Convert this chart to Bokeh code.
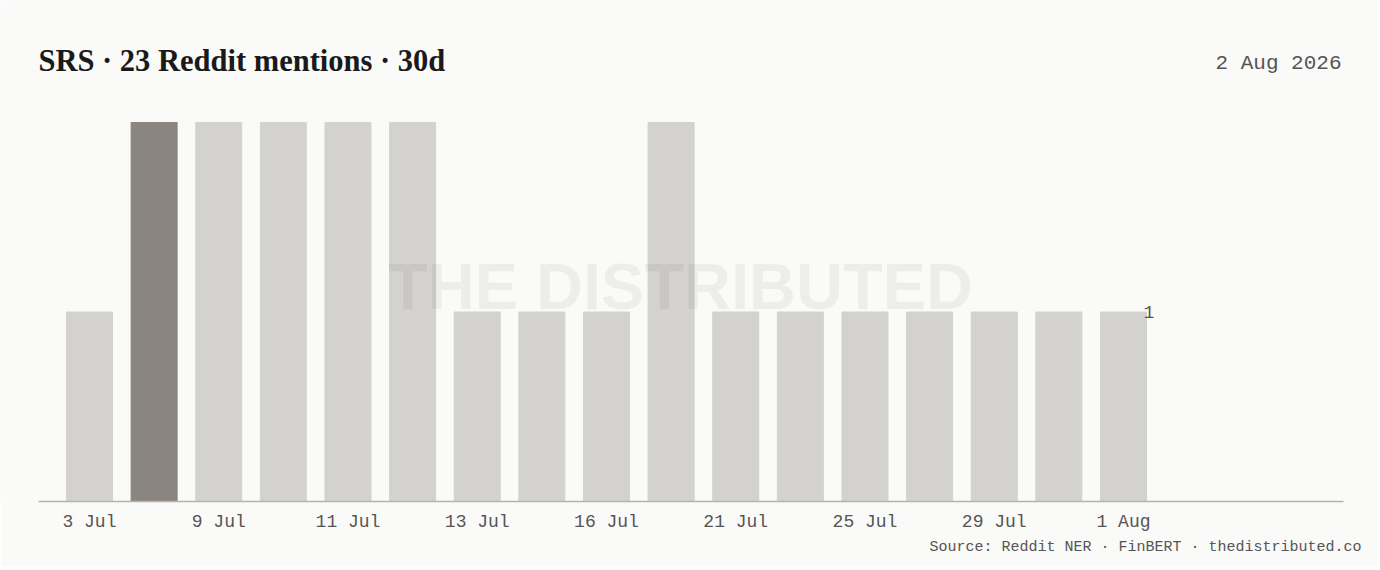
from bokeh.plotting import figure
from bokeh.models import ColumnDataSource, Range1d, FixedTicker, Label, Title
from bokeh.embed import file_html
from bokeh.resources import INLINE

# ---- data ----
mentions = [1, 2, 2, 2, 2, 2, 1, 1, 1, 2, 1, 1, 1, 1, 1, 1, 1]
highlight_index = 1
tick_positions = [0, 2, 4, 6, 8, 10, 12, 14, 16]
tick_labels = ["3 Jul", "9 Jul", "11 Jul", "13 Jul", "16 Jul",
               "21 Jul", "25 Jul", "29 Jul", "1 Aug"]
title_text = "SRS · 23 Reddit mentions · 30d"
date_text = "2 Aug 2026"
source_text = "Source: Reddit NER · FinBERT · thedistributed.co"

BG = "#fafaf9"
BAR = "#d3d2cf"
BAR_HI = "#8a857e"
MONO = "Liberation Mono"

xs = list(range(len(mentions)))
colors = [BAR_HI if i == highlight_index else BAR for i in xs]
src = ColumnDataSource(dict(x=xs, top=mentions, color=colors))

W, H = 1378, 566
p = figure(width=W, height=H, output_backend="svg", toolbar_location=None,
           title_location=None,
           x_range=Range1d(-1.377, 19.946), y_range=Range1d(0, 2.6438),
           y_axis_location=None, min_border_left=0, min_border_right=0,
           min_border_top=0, min_border_bottom=65)
p.background_fill_color = BG
p.border_fill_color = BG
p.outline_line_color = None
p.xgrid.visible = False
p.ygrid.visible = False

p.vbar(x="x", top="top", width=0.712, bottom=0, color="color", source=src)

ax = p.xaxis[0]
ax.bounds = (-0.789, 19.40)
ax.ticker = FixedTicker(ticks=tick_positions)
ax.major_label_overrides = {t: l for t, l in zip(tick_positions, tick_labels)}
ax.major_tick_line_color = None
ax.minor_tick_line_color = None
ax.axis_line_color = "#b3b3b0"
ax.axis_line_width = 1.5
ax.major_label_text_font = MONO
ax.major_label_text_font_size = "18px"
ax.major_label_text_color = "#555555"
ax.major_label_standoff = 4

# value label at last bar
last = len(mentions) - 1
p.add_layout(Label(x=last + 0.356, y=mentions[last], text=str(mentions[last]),
                   x_offset=-3, y_offset=0, text_font=MONO, text_font_size="18px",
                   text_color="#555555", text_baseline="middle", text_align="left"))

# watermark
p.add_layout(Label(x=680, y=215, x_units="screen", y_units="screen",
                   text="THE DISTRIBUTED", text_font="Liberation Sans",
                   text_font_style="bold", text_font_size="65px",
                   text_color="#000000", text_alpha=0.05,
                   text_align="center", text_baseline="middle"))

# title and date
p.add_layout(Label(x=38, y=441, x_units="screen", y_units="screen",
                   text=title_text, text_font="Liberation Serif",
                   text_font_style="bold", text_font_size="30.5px",
                   text_color="#1a1a1a", text_baseline="middle"))
p.add_layout(Label(x=1341, y=438, x_units="screen", y_units="screen",
                   text=date_text, text_font=MONO, text_font_size="21px",
                   text_color="#555555", text_align="right",
                   text_baseline="middle"))

# source line below the axis
p.add_layout(Title(text=source_text, align="left", offset=929,
                   text_font=MONO, text_font_size="15px",
                   text_font_style="normal", text_color="#555555",
                   standoff=4), "below")

open("out.html", "w").write(file_html(p, INLINE))
